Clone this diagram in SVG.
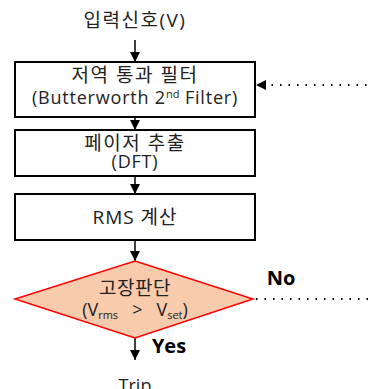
<svg xmlns="http://www.w3.org/2000/svg" width="371" height="389" viewBox="0 0 371 389">
<defs>
<marker id="ah" viewBox="0 0 10 10" refX="10" refY="5" markerWidth="10" markerHeight="10" markerUnits="userSpaceOnUse" orient="auto"><path d="M0,0 L10,5 L0,10 z" fill="#000"/></marker>
</defs>
<style>
text{font-family:"Open Sans","Noto Sans CJK KR",sans-serif;font-size:18px;fill:#222;text-anchor:middle}
.kr{font-size:19px;letter-spacing:1.5px}
.lat{font-size:18px;letter-spacing:0.8px}
.box{fill:#fff;stroke:#000;stroke-width:2}
.line{stroke:#000;stroke-width:1.5;fill:none}
.dot{stroke:#000;stroke-width:2;stroke-dasharray:1.5 7;fill:none}
.b{font-weight:bold;font-size:20px;fill:#000}
.sub{font-size:11px;letter-spacing:0}
</style>
<g id="connectors">
<line class="line" x1="135" y1="40" x2="135" y2="62" marker-end="url(#ah)"/>
<line class="line" x1="135" y1="118" x2="135" y2="130" marker-end="url(#ah)"/>
<line class="line" x1="135" y1="176" x2="135" y2="194" marker-end="url(#ah)"/>
<line class="line" x1="135" y1="240" x2="135" y2="261" marker-end="url(#ah)"/>
<line class="line" x1="135" y1="338" x2="135" y2="360" marker-end="url(#ah)"/>
<line class="dot" x1="263" y1="85" x2="371" y2="85"/>
<path d="M256,85 L266,80 L266,90 z" fill="#000"/>
<line class="dot" x1="256" y1="299" x2="371" y2="299"/>
<text class="b" x="281" y="285">No</text>
<text class="b" x="169" y="353">Yes</text>
</g>
<g id="input"><text class="kr" x="135" y="27">입력신호(V)</text></g>
<g id="lpf">
<rect class="box" x="15" y="62" width="240" height="55"/>
<text class="kr" x="135" y="82">저역 통과 필터</text>
<text class="lat" x="135" y="104">(Butterworth 2<tspan class="sub" dy="-6">nd</tspan><tspan dy="6"> Filter)</tspan></text>
</g>
<g id="dft">
<rect class="box" x="15" y="130" width="240" height="46"/>
<text class="kr" x="135" y="150">페이저 추출</text>
<text class="lat" x="135" y="168">(DFT)</text>
</g>
<g id="rms">
<rect class="box" x="15" y="194" width="240" height="46"/>
<text class="kr" x="135" y="224" style="letter-spacing:1px">RMS 계산</text>
</g>
<g id="decision">
<polygon points="135,261 253,299 135,338 15,299" fill="#F8CBAD" stroke="#FF0000" stroke-width="1.5"/>
<text class="kr" x="135" y="295" style="letter-spacing:0.5px">고장판단</text>
<text x="135" y="316" xml:space="preserve">(V<tspan class="sub" dy="3">rms</tspan><tspan dy="-3">   &gt;   V</tspan><tspan class="sub" dy="3">set</tspan><tspan dy="-3">)</tspan></text>
</g>
<g id="trip"><text x="135" y="392">Trip</text></g>
</svg>
